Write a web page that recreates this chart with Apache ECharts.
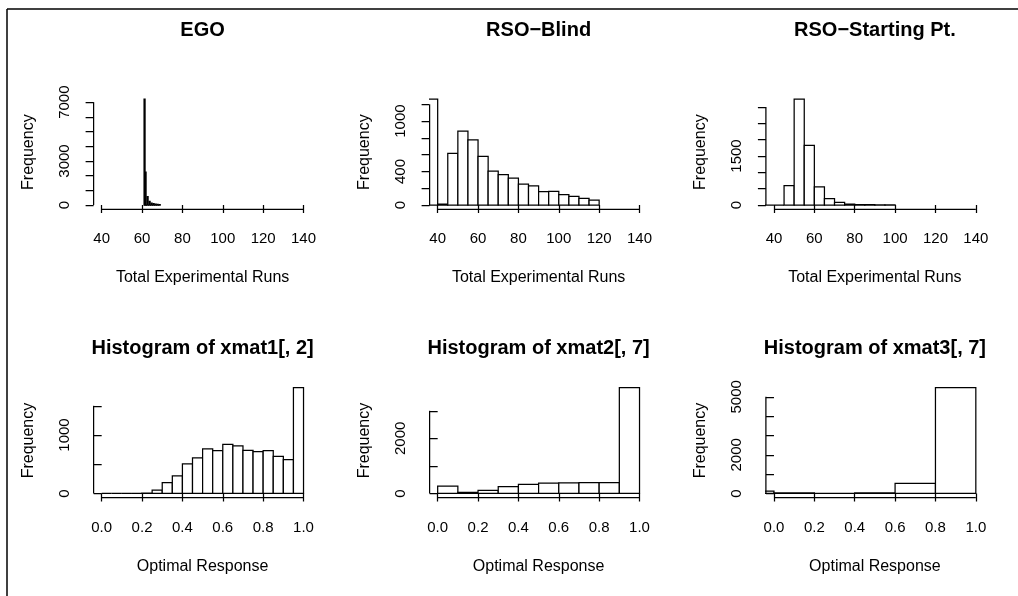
<!DOCTYPE html>
<html><head><meta charset="utf-8">
<script src="https://cdn.jsdelivr.net/npm/echarts@6/dist/echarts.min.js"></script>
<style>html,body{margin:0;padding:0;background:#fff}#c{width:1018px;height:596px}</style>
</head><body><div id="c"></div>
<script>
// ---------------- data ----------------
const panelTitles = ['EGO', 'RSO\u2212Blind', 'RSO\u2212Starting Pt.',
  'Histogram of xmat1[, 2]', 'Histogram of xmat2[, 7]', 'Histogram of xmat3[, 7]'];
const xTitles = ['Total Experimental Runs', 'Total Experimental Runs', 'Total Experimental Runs',
  'Optimal Response', 'Optimal Response', 'Optimal Response'];
const yTitle = 'Frequency';

// histogram breaks and counts
const egoBreaks = [61, 61.5, 62, 62.5, 63, 63.5, 64, 64.5, 65, 65.5, 66, 66.5, 67, 67.5, 68, 68.5, 69];
const egoCounts = [7200, 2240, 0, 570, 0, 250, 0, 130, 0, 90, 0, 60, 0, 40, 0, 25];

const blindBreaks = [35, 40, 45, 50, 55, 60, 65, 70, 75, 80, 85, 90, 95, 100, 105, 110, 115, 120];
const blindCounts = [1260, 12, 616, 879, 775, 580, 405, 362, 322, 250, 227, 159, 163, 123, 103, 80, 60];

const startBreaks = [35, 40, 45, 50, 55, 60, 65, 70, 75, 80, 85, 90, 95, 100];
const startCounts = [0, 0, 595, 3234, 1827, 554, 195, 82, 31, 15, 10, 8, 6];

const xmat1Breaks = [0, 0.05, 0.1, 0.15, 0.2, 0.25, 0.3, 0.35, 0.4, 0.45, 0.5, 0.55, 0.6, 0.65, 0.7, 0.75, 0.8, 0.85, 0.9, 0.95, 1];
const xmat1Counts = [0, 0, 0, 0, 5, 58, 185, 300, 508, 611, 761, 732, 842, 813, 738, 715, 732, 634, 577, 1811];

const xmat2Breaks = [0, 0.1, 0.2, 0.3, 0.4, 0.5, 0.6, 0.7, 0.8, 0.9, 1];
const xmat2Counts = [268, 37, 110, 244, 329, 378, 385, 392, 390, 3841];

const xmat3Breaks = [-0.2, 0, 0.2, 0.4, 0.6, 0.8, 1];
const xmat3Counts = [120, 30, 0, 25, 522, 5478];

// axis ticks and labels
const runsXLim = [40, 140];
const runsXTicks = [40, 60, 80, 100, 120, 140];
const respXLim = [0, 1];
const respXTicks = [0, 0.2, 0.4, 0.6, 0.8, 1.0];

const yTicks = [
  [0, 1000, 2000, 3000, 4000, 5000, 6000, 7000],
  [0, 200, 400, 600, 800, 1000, 1200],
  [0, 500, 1000, 1500, 2000, 2500, 3000],
  [0, 500, 1000, 1500],
  [0, 1000, 2000, 3000],
  [0, 1000, 2000, 3000, 4000, 5000]
];
const yLabels = [
  [0, 3000, 7000],
  [0, 400, 1000],
  [0, 1500],
  [0, 1000],
  [0, 2000],
  [0, 2000, 5000]
];

const panels = [
  {breaks: egoBreaks, counts: egoCounts, xlim: runsXLim, xticks: runsXTicks, digits: 0},
  {breaks: blindBreaks, counts: blindCounts, xlim: runsXLim, xticks: runsXTicks, digits: 0},
  {breaks: startBreaks, counts: startCounts, xlim: runsXLim, xticks: runsXTicks, digits: 0},
  {breaks: xmat1Breaks, counts: xmat1Counts, xlim: respXLim, xticks: respXTicks, digits: 1},
  {breaks: xmat2Breaks, counts: xmat2Counts, xlim: respXLim, xticks: respXTicks, digits: 1},
  {breaks: xmat3Breaks, counts: xmat3Counts, xlim: respXLim, xticks: respXTicks, digits: 1}
];

// ---------------- layout ----------------
const FONT = '"Liberation Sans", Arial, Helvetica, sans-serif';
const colLeft = [93.6, 429.6, 765.9];
const plotW = 218;
const rowTop = [95, 383.4];
const plotH = 114.3;
const titleTop = [20.5, 338.5];
const LW = 1.25;

const chart = echarts.init(document.getElementById('c'), null, {renderer: 'canvas'});

const grid = [], xAxis = [], yAxis = [], series = [], title = [];
panels.forEach((p, i) => {
  const r = Math.floor(i / 3), c = i % 3;
  grid.push({left: colLeft[c], top: rowTop[r], width: plotW, height: plotH, containLabel: false});
  const xr = p.xlim[1] - p.xlim[0];
  const xmin = p.xlim[0] - 0.04 * xr, xmax = p.xlim[1] + 0.04 * xr;
  const ymaxData = Math.max.apply(null, p.counts);
  const ymin = -0.04 * ymaxData, ymax = 1.04 * ymaxData;
  title.push({
    text: panelTitles[i], left: colLeft[c] + plotW / 2, top: titleTop[r],
    textAlign: 'center', textVerticalAlign: 'top', padding: 0,
    textStyle: {fontFamily: FONT, fontWeight: 'bold', fontSize: 20, color: '#000'}
  });
  xAxis.push({
    type: 'value', gridIndex: i, min: xmin, max: xmax,
    name: xTitles[i], nameLocation: 'middle', nameGap: 60.5,
    nameTextStyle: {fontFamily: FONT, fontSize: 16, color: '#000'},
    axisLine: {show: false},
    axisTick: {show: true, length: 8, customValues: p.xticks, lineStyle: {color: '#000', width: LW}},
    axisLabel: {customValues: p.xticks, margin: 22.5, fontFamily: FONT, fontSize: 15, color: '#000',
      formatter: v => Number(v).toFixed(p.digits)},
    splitLine: {show: false}
  });
  yAxis.push({
    type: 'value', gridIndex: i, min: ymin, max: ymax,
    name: yTitle, nameLocation: 'middle', nameGap: 57, nameRotate: 90,
    nameTextStyle: {fontFamily: FONT, fontSize: 16, color: '#000'},
    axisLine: {show: false},
    axisTick: {show: true, length: 8, customValues: yTicks[i], lineStyle: {color: '#000', width: LW}},
    axisLabel: {customValues: yLabels[i], rotate: 90, margin: 21.5, fontFamily: FONT, fontSize: 15, color: '#000',
      formatter: v => String(v)},
    splitLine: {show: false}
  });
  const bins = p.counts.map((cnt, k) => [p.breaks[k], p.breaks[k + 1], cnt]);
  series.push({
    type: 'custom', xAxisIndex: i, yAxisIndex: i, clip: true, silent: true,
    data: bins,
    renderItem: (params, api) => {
      const a = api.coord([api.value(0), 0]);
      const b = api.coord([api.value(1), api.value(2)]);
      return {type: 'rect', shape: {x: a[0], y: b[1], width: b[0] - a[0], height: a[1] - b[1]},
        style: {fill: '#fff', stroke: '#000', lineWidth: LW}};
    }
  });
  // R-style axis lines spanning first to last tick
  const yt = yTicks[i];
  series.push({
    type: 'custom', xAxisIndex: i, yAxisIndex: i, clip: false, silent: true,
    data: [[p.xticks[0], p.xticks[p.xticks.length - 1], yt[0], yt[yt.length - 1]]],
    renderItem: (params, api) => {
      const xa = api.coord([api.value(0), ymin]), xb = api.coord([api.value(1), ymin]);
      const ya = api.coord([xmin, api.value(2)]), yb = api.coord([xmin, api.value(3)]);
      return {type: 'group', children: [
        {type: 'line', shape: {x1: xa[0], y1: xa[1], x2: xb[0], y2: xb[1]}, style: {stroke: '#000', lineWidth: LW}},
        {type: 'line', shape: {x1: ya[0], y1: ya[1], x2: yb[0], y2: yb[1]}, style: {stroke: '#000', lineWidth: LW}}
      ]};
    }
  });
});

chart.setOption({
  backgroundColor: '#fff',
  animation: false,
  title: title,
  grid: grid, xAxis: xAxis, yAxis: yAxis, series: series,
  graphic: [
    {type: 'line', shape: {x1: 7, y1: 9, x2: 1018, y2: 9}, style: {stroke: '#000', lineWidth: 1.5}, silent: true},
    {type: 'line', shape: {x1: 7, y1: 9, x2: 7, y2: 596}, style: {stroke: '#000', lineWidth: 1.5}, silent: true}
  ]
});
</script></body></html>
